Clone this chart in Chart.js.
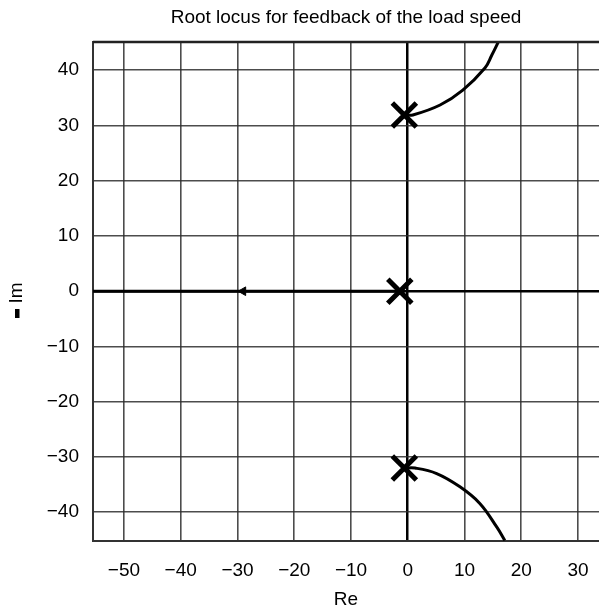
<!DOCTYPE html>
<html>
<head>
<meta charset="utf-8">
<script src="https://cdn.jsdelivr.net/npm/chart.js@4.4.1/dist/chart.umd.min.js"></script>
<style>
  html, body { margin: 0; padding: 0; background: #fff; overflow: hidden; }
  #wrap { width: 599px; height: 611px; }
</style>
</head>
<body>
<div id="wrap"><canvas id="chart" width="599" height="611"></canvas></div>
<script>
// --- Data ---
const xTicks = [-50, -40, -30, -20, -10, 0, 10, 20, 30];
const yTicks = [-40, -30, -20, -10, 0, 10, 20, 30, 40];

// open-loop poles (the crosses)
const poleRe = [-0.6, -1.4, -0.6];
const poleIm = [31.9, 0, -32];

// upper complex branch
const upperRe = [-0.6, 0.9, 5.7, 9.7, 13.6, 14.8, 16.1];
const upperIm = [31.9, 31.9, 33.7, 36.4, 40.4, 42.7, 45.4];

// lower complex branch
const lowerRe = [-0.6, 1.3, 5.1, 9.2, 12.7, 15.7, 17.1];
const lowerIm = [-32, -32, -33, -35.4, -38.4, -42.7, -45.1];

// real-axis branch running to the left
const realRe = [-1.4, -56];
const realIm = [0, 0];

// arrow on the real-axis branch
const arrowRe = [-29];
const arrowIm = [0];

const FONT = "'Liberation Sans', Arial, Helvetica, sans-serif";
const pts = (xs, ys) => xs.map((x, i) => ({ x: x, y: ys[i] }));
const minusFmt = v => (v < 0 ? '\u2212' + Math.abs(v) : '' + v);

// frame top line and the y-axis title with its little bar
const extras = {
    id: 'extras',
    afterDraw(chart) {
        const { ctx, chartArea } = chart;
        ctx.save();
        ctx.strokeStyle = '#222';
        ctx.lineWidth = 2.5;
        ctx.beginPath();
        ctx.moveTo(chartArea.left, chartArea.top);
        ctx.lineTo(chartArea.right, chartArea.top);
        ctx.stroke();

        const cy = (chartArea.top + chartArea.bottom) / 2;
        ctx.translate(17, cy + 1.5);
        ctx.rotate(-Math.PI / 2);
        ctx.fillStyle = '#000';
        ctx.font = '19px ' + FONT;
        ctx.textAlign = 'center';
        ctx.textBaseline = 'middle';
        ctx.fillText('Im', 0, 0);
        ctx.fillRect(-25, -2, 9, 4.5);
        ctx.restore();
    }
};

const gridColor = c => (c.tick && c.tick.value === 0 ? '#000' : 'rgba(45,45,45,0.85)');
const gridWidth = c => (c.tick && c.tick.value === 0 ? 2.5 : 1.6);

new Chart(document.getElementById('chart'), {
    type: 'scatter',
    data: {
        datasets: [
            { data: pts(realRe, realIm), showLine: true, borderColor: '#000', borderWidth: 3, pointRadius: 0 },
            { data: pts(upperRe, upperIm), showLine: true, borderColor: '#000', borderWidth: 3, pointRadius: 0, tension: 0.4 },
            { data: pts(lowerRe, lowerIm), showLine: true, borderColor: '#000', borderWidth: 3, pointRadius: 0, tension: 0.4 },
            { data: pts(arrowRe, arrowIm), pointStyle: 'triangle', rotation: -90, pointRadius: 5,
              backgroundColor: '#000', borderColor: '#000', borderWidth: 1 },
            { data: pts(poleRe, poleIm), pointStyle: 'crossRot', pointRadius: 17,
              borderColor: '#000', borderWidth: 5 }
        ]
    },
    options: {
        responsive: false,
        animation: false,
        layout: { autoPadding: false, padding: 0 },
        plugins: {
            legend: { display: false },
            tooltip: { enabled: false },
            title: {
                display: true,
                text: 'Root locus for feedback of the load speed',
                fullSize: false,
                color: '#000',
                font: { family: FONT, size: 19, weight: 'normal' },
                padding: { top: 6, bottom: 13.2 }
            }
        },
        scales: {
            x: {
                type: 'linear',
                min: -55.46,
                max: 33.7,
                afterFit: s => { s.height = 70; s.paddingLeft = 0; s.paddingRight = 0; },
                ticks: {
                    stepSize: 10,
                    includeBounds: false,
                    padding: 18,
                    color: '#000',
                    font: { family: FONT, size: 19 },
                    callback: v => (xTicks.includes(v) ? minusFmt(v) : '')
                },
                grid: { drawTicks: false, color: gridColor, lineWidth: gridWidth },
                border: { display: true, color: '#333', width: 2 },
                title: {
                    display: true, text: 'Re', color: '#000',
                    font: { family: FONT, size: 19 }, padding: { top: 0, bottom: 0 }
                }
            },
            y: {
                type: 'linear',
                min: -45.2,
                max: 45.1,
                afterFit: s => { s.width = 93; s.paddingTop = 0; s.paddingBottom = 0; },
                ticks: {
                    stepSize: 10,
                    includeBounds: false,
                    padding: 14,
                    color: '#000',
                    font: { family: FONT, size: 19 },
                    callback: v => (yTicks.includes(v) ? minusFmt(v) : '')
                },
                grid: { drawTicks: false, color: gridColor, lineWidth: gridWidth },
                border: { display: true, color: '#333', width: 2 }
            }
        }
    },
    plugins: [extras]
});
</script>
</body>
</html>
